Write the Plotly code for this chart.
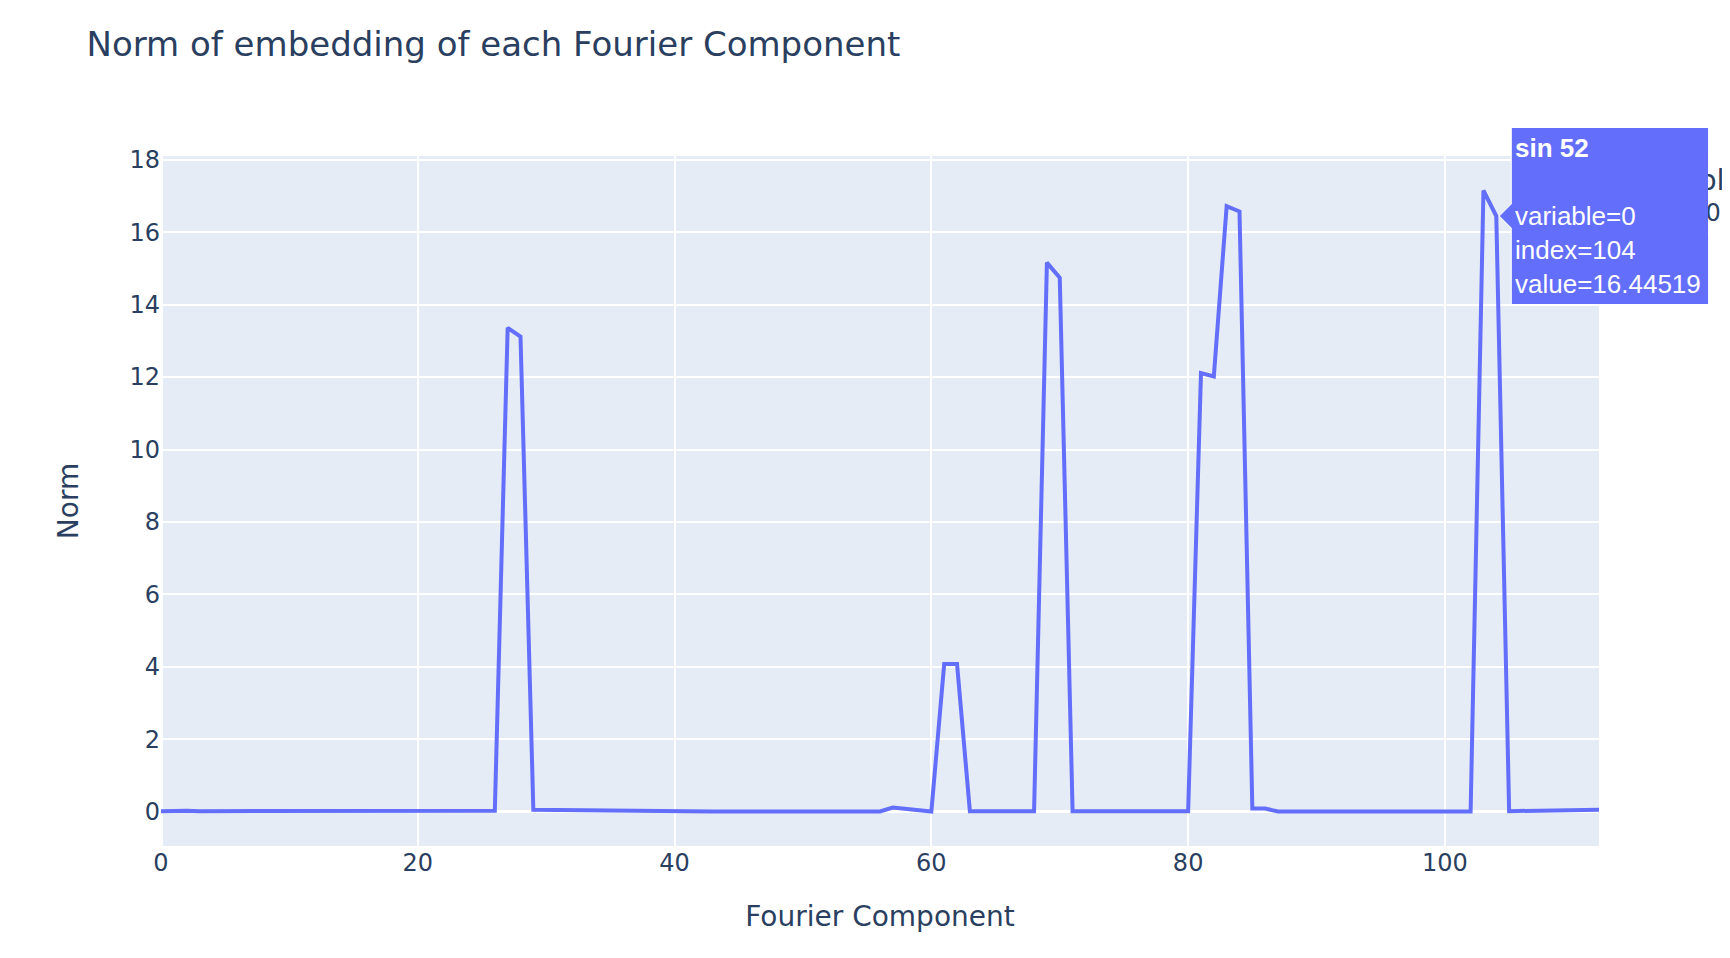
import plotly.graph_objects as go

# ---- data ----
component_index = list(range(113))
norm_values = [
    0.02, 0.03, 0.03, 0.02, 0.02, 0.02, 0.02, 0.02, 0.02, 0.02,   # 0-9
    0.02, 0.02, 0.02, 0.02, 0.02, 0.02, 0.02, 0.02, 0.02, 0.02,   # 10-19
    0.02, 0.02, 0.02, 0.02, 0.03, 0.03, 0.03, 13.36, 13.12, 0.06, # 20-29
    0.055, 0.05, 0.045, 0.04, 0.035, 0.03, 0.02, 0.015, 0.01, 0.01, # 30-39
    0.01, 0.01, 0.01, 0.01, 0.01, 0.01, 0.01, 0.01, 0.01, 0.01,   # 40-49
    0.01, 0.01, 0.01, 0.01, 0.01, 0.01, 0.01, 0.12, 0.08, 0.05,   # 50-59
    0.01, 4.08, 4.08, 0.02, 0.02, 0.02, 0.02, 0.02, 0.02, 15.16,  # 60-69
    14.74, 0.02, 0.02, 0.02, 0.02, 0.02, 0.02, 0.02, 0.02, 0.02,  # 70-79
    0.02, 12.11, 12.02, 16.72, 16.57, 0.09, 0.09, 0.01, 0.01, 0.01, # 80-89
    0.01, 0.01, 0.01, 0.01, 0.01, 0.01, 0.01, 0.01, 0.01, 0.01,   # 90-99
    0.01, 0.01, 0.01, 17.15, 16.44519, 0.02, 0.025, 0.03, 0.035, 0.04, # 100-109
    0.045, 0.05, 0.06,                                             # 110-112
]
series_name = "0"
legend_title = "variable"
hover_index = 104
hover_label = "sin 52"

title_text = "Norm of embedding of each Fourier Component"
x_title = "Fourier Component"
y_title = "Norm"

LINE_COLOR = "#636efa"
TEXT_COLOR = "#2a3f5f"
FONT = "Verdana, DejaVu Sans, sans-serif"

# page offsets (browser body margin) compensated by figure size
W, H = 1722, 950

# axis ranges (same rule as plotly autorange: 5% padding of axis length)
ymin, ymax = min(norm_values), max(norm_values)
span = (ymax - ymin) / 0.9
y_range = [ymin - 0.05 * span, ymax + 0.05 * span]
x_range = [component_index[0], component_index[-1]]

fig = go.Figure()
fig.add_trace(go.Scatter(
    x=component_index, y=norm_values, mode="lines", name=series_name,
    line=dict(color=LINE_COLOR, width=4), showlegend=True,
))

# simulated hover label at the hovered point
hv = norm_values[hover_index]
px = (hover_index - x_range[0]) / (x_range[1] - x_range[0])
py = (hv - y_range[0]) / (y_range[1] - y_range[0])

fig.add_shape(
    type="path", xref="paper", yref="paper",
    xsizemode="pixel", ysizemode="pixel", xanchor=px, yanchor=py,
    path="M 3,0 L 15,12 L 15,88 L 212,88 L 212,-88 L 15,-88 L 15,-12 Z",
    fillcolor=LINE_COLOR, line=dict(color="white", width=1), layer="above",
)
hover_text = (f"<b>{hover_label}</b><br><br>variable={series_name}<br>"
              f"index={hover_index}<br>value={hv:.5f}")
fig.add_annotation(
    xref="paper", yref="paper", x=px, y=py, xanchor="left", yanchor="middle",
    xshift=16, showarrow=False, text=hover_text, align="left", valign="middle",
    bgcolor=LINE_COLOR, borderpad=3, borderwidth=0, width=190, height=170,
    font=dict(family="Arial, Liberation Sans, sans-serif", size=26, color="white"),
)

fig.update_layout(
    width=W, height=H,
    margin=dict(l=153, r=131, t=148, b=112, autoexpand=False),
    paper_bgcolor="white", plot_bgcolor="#E5ECF6",
    font=dict(family=FONT, size=24, color=TEXT_COLOR),
    title=dict(text=title_text, x=78.5 / W, xref="container", xanchor="left",
               y=1 - 36.5 / H, yanchor="middle",
               font=dict(size=34, color=TEXT_COLOR, family=FONT)),
    legend=dict(title=dict(text=legend_title), x=1.017, xanchor="left",
                y=1.006, yanchor="top", font=dict(size=24), itemwidth=72),
    xaxis=dict(range=x_range, dtick=20, gridcolor="white", gridwidth=2,
               zeroline=True, zerolinecolor="white", zerolinewidth=3,
               title=dict(text=x_title, font=dict(size=28), standoff=30),
               tickfont=dict(size=24), showline=False),
    yaxis=dict(range=y_range, dtick=2, gridcolor="white", gridwidth=2,
               zeroline=True, zerolinecolor="white", zerolinewidth=3,
               title=dict(text=y_title, font=dict(size=28), standoff=42),
               tickfont=dict(size=24), showline=False),
)

fig.write_html("out.html")
